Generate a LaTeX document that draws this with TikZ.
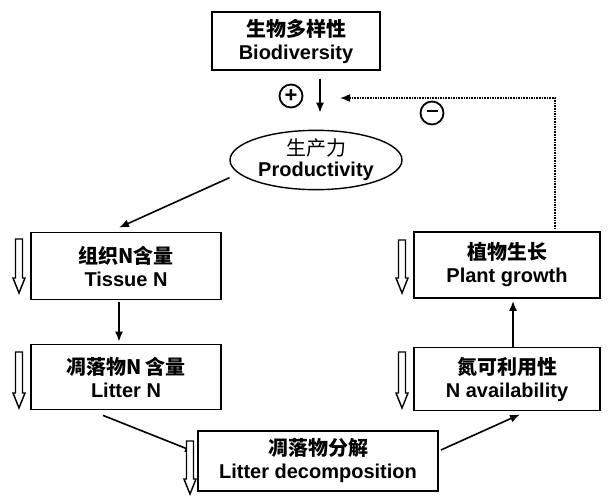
\documentclass[tikz,border=0pt]{standalone}
\usepackage{fontspec}
\setmainfont{Liberation Sans}
\newfontfamily\cjk{Noto Sans CJK SC}
\usetikzlibrary{arrows.meta,shapes.geometric}
\tikzset{
  fbox/.style={draw, line width=1.8pt, align=center, inner sep=0pt,
    font=\bfseries\fontsize{20}{23}\selectfont},
  link/.style={-{Latex[length=10pt,width=8pt]}, line width=1.6pt},
  sign/.style={circle, draw, line width=1.8pt, minimum size=23pt, inner sep=0pt,
    font=\bfseries\fontsize{22}{22}\selectfont}
}
\begin{document}
\begin{tikzpicture}[x=1pt,y=-1pt]
  \useasboundingbox (0,0) rectangle (610,498);
  % boxes
  \node[fbox, minimum width=168pt, minimum height=58pt] (bio) at (296,41)
    {{\cjk 生物多样性}\\Biodiversity};
  \node[ellipse, draw, line width=1.4pt, minimum width=172pt, minimum height=46pt,
    inner sep=0pt, align=center, font=\fontsize{20}{21}\selectfont] (prod) at (316,160)
    {{\cjk 生产力}\\\textbf{Productivity}};
  \node[fbox, minimum width=190pt, minimum height=67pt] (tissue) at (126,266)
    {{\cjk 组织N含量}\\Tissue N};
  \node[fbox, minimum width=190pt, minimum height=65pt] (litter) at (126,377)
    {{\cjk 凋落物N 含量}\\Litter N};
  \node[fbox, minimum width=240pt, minimum height=60pt] (decomp) at (318,461)
    {{\cjk 凋落物分解}\\Litter decomposition};
  \node[fbox, minimum width=186pt, minimum height=63pt] (avail) at (507,379)
    {{\cjk 氮可利用性}\\N availability};
  \node[fbox, minimum width=186pt, minimum height=66pt] (growth) at (507,265)
    {{\cjk 植物生长}\\Plant growth};
  % signs
  \node[sign] (plus) at (291,96) {+};
  \node[sign] (minus) at (432,113) {\rule[0.3ex]{0.5em}{2.4pt}};
  % arrows
  \draw[link] ([xshift=24pt,yshift=-8pt]bio.south) -- ([xshift=4pt,yshift=17pt]prod.north);
  \coordinate (fb) at (340,98);
  \draw[link, densely dotted] ([xshift=48pt,yshift=2pt]growth.north) |- (fb);
  \draw[link] ([xshift=-9pt,yshift=-4pt]prod.190) -- ([xshift=-7pt,yshift=4pt]tissue.north);
  \draw[link] ([xshift=-7pt,yshift=-2pt]tissue.south) -- ([xshift=-7pt,yshift=2pt]litter.north);
  \draw[link] ([xshift=-23pt,yshift=-5pt]litter.south) -- ([xshift=-2pt,yshift=9pt]decomp.west);
  \draw[link] ([xshift=2pt,yshift=11pt]decomp.east) -- ([xshift=13pt,yshift=-3pt]avail.south);
  \draw[link] ([xshift=6pt]avail.north) -- ([xshift=6pt,yshift=-2pt]growth.south);
  % hollow down arrows
  \foreach \x/\a/\b in {19/239/293, 19/352/408, 402/240/293, 402/352/408, 190/441/494}{
    \draw[line width=1.4pt, fill=white] (\x-3.5,\a) -- (\x+3.5,\a) -- (\x+3.5,\b-15)
      -- (\x+6,\b-15) -- (\x,\b) -- (\x-6,\b-15) -- (\x-3.5,\b-15) -- cycle;
  }
\end{tikzpicture}
\end{document}
